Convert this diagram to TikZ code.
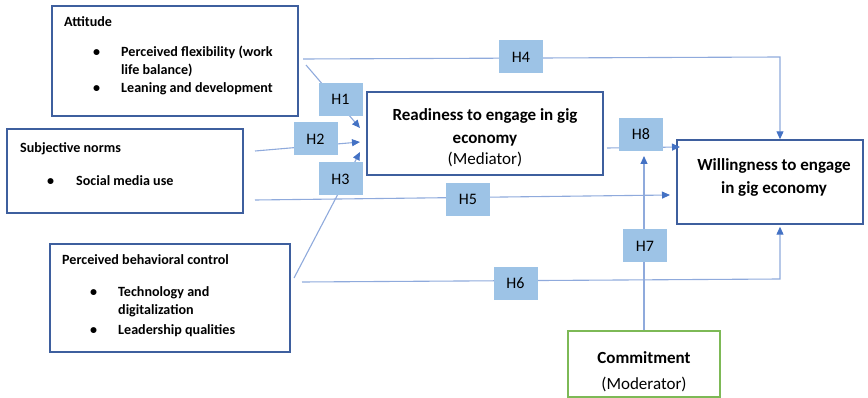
\documentclass[tikz,border=0pt]{standalone}
\usepackage{fontspec}
\setmainfont{Carlito}
\usetikzlibrary{arrows.meta}
\definecolor{boxblue}{HTML}{3E5F9E}
\definecolor{linkblue}{HTML}{8FAADC}
\definecolor{tipblue}{HTML}{4472C4}
\definecolor{hfill}{HTML}{9DC3E6}
\definecolor{modgreen}{HTML}{7DB956}
\tikzset{
  cbox/.style={draw=boxblue, line width=1.4pt, fill=white, inner sep=0pt},
  gbox/.style={draw=modgreen, line width=1.4pt, fill=white, inner sep=0pt},
  hbox/.style={fill=hfill, minimum width=44pt, minimum height=33pt, inner sep=0pt, font=\fontsize{16}{18}\selectfont},
  small/.style={font=\fontsize{14.1}{16}\selectfont\bfseries, anchor=mid west, inner sep=0pt},
  bigtxt/.style={font=\fontsize{17}{20}\selectfont, inner sep=0pt, anchor=mid},
  link/.style={draw=linkblue, line width=1.1pt},
  arr/.style={link, -{Triangle[length=8pt,width=7pt,color=tipblue]}}
}
\begin{document}
\begin{tikzpicture}[x=1pt,y=-1pt]
\useasboundingbox (0,0) rectangle (868,398);
% main boxes
\node[cbox, minimum width=246pt, minimum height=110pt] (att) at (175,61) {};
\node[cbox, minimum width=236pt, minimum height=84pt] (sn) at (125,171) {};
\node[cbox, minimum width=240pt, minimum height=108pt] (pbc) at (170,298) {};
\node[cbox, minimum width=236pt, minimum height=83pt] (rd) at (485,133.5) {};
\node[cbox, minimum width=186pt, minimum height=84pt] (wl) at (770,182) {};
\node[gbox, minimum width=152pt, minimum height=66pt] (cm) at (644,364) {};
% texts
\node[small] (t1) at (64,24.5) {Attitude};
\node[small] (t1b1) at (93,54.5) {•};
\node[small] (t1a) at (121,54.5) {Perceived flexibility (work};
\node[small] (t1c) at (121,72.5) {life balance)};
\node[small] (t1b2) at (93,90.5) {•};
\node[small] (t1d) at (121,90.5) {Leaning and development};
\node[small] (t2) at (20,150.5) {Subjective norms};
\node[small] (t2b) at (47,183.5) {•};
\node[small] (t2a) at (76,183.5) {Social media use};
\node[small] (t3) at (62,262.5) {Perceived behavioral control};
\node[small] (t3b1) at (90,294.5) {•};
\node[small] (t3a) at (118,294.5) {Technology and};
\node[small] (t3c) at (118,312.5) {digitalization};
\node[small] (t3b2) at (90,332.5) {•};
\node[small] (t3d) at (118,332.5) {Leadership qualities};
\node[bigtxt, font=\fontsize{17}{20}\selectfont\bfseries] (rd1) at (485,118) {Readiness to engage in gig};
\node[bigtxt, font=\fontsize{17}{20}\selectfont\bfseries] (rd2) at (485,141) {economy};
\node[bigtxt] (rd3) at (485,162) {(Mediator)};
\node[bigtxt, font=\fontsize{17}{20}\selectfont\bfseries] (wl1) at (774,168) {Willingness to engage};
\node[bigtxt, font=\fontsize{17}{20}\selectfont\bfseries] (wl2) at (774,191) {in gig economy};
\node[bigtxt, font=\fontsize{17}{20}\selectfont\bfseries] (cm1) at (644,361) {Commitment};
\node[bigtxt] (cm2) at (644,387) {(Moderator)};
% connector end points
\coordinate (h1s) at (306,65);
\coordinate (h1e) at (360,128);
\coordinate (h2s) at (255,151);
\coordinate (h2e) at (360,142);
\coordinate (h3s) at (294,278);
\coordinate (h3e) at (360,152);
\coordinate (h4s) at (303,59);
\coordinate (h4c) at (780,57);
\coordinate (h5s) at (255,200);
\coordinate (h5e) at (670,195);
\coordinate (h6s) at (302,282);
\coordinate (h6c) at (780,279);
\coordinate (h7e) at (644,156);
\coordinate (h8s) at (607,148);
\coordinate (h8e) at (680,147);
% connectors
\draw[arr] (h1s) -- (h1e);
\draw[arr] (h2s) -- (h2e);
\draw[arr] (h3s) -- (h3e);
\draw[arr] (h4s) -- (h4c) -- (wl.north -| h4c);
\draw[arr] (h5s) -- (h5e);
\draw[arr] (h6s) -- (h6c) -- ([yshift=-2pt]wl.south -| h6c);
\draw[arr] (cm.north) -- (h7e);
\draw[arr] (h8s) -- (h8e);
% hypothesis labels
\node[hbox] (H1) at (340.5,99.5) {H1};
\node[hbox] (H2) at (315.5,139) {H2};
\node[hbox] (H3) at (340.5,179) {H3};
\node[hbox] (H4) at (521,57) {H4};
\node[hbox] (H5) at (468,199.5) {H5};
\node[hbox] (H6) at (515.5,283.5) {H6};
\node[hbox] (H7) at (645,246) {H7};
\node[hbox] (H8) at (641,134.5) {H8};
\end{tikzpicture}
\end{document}
